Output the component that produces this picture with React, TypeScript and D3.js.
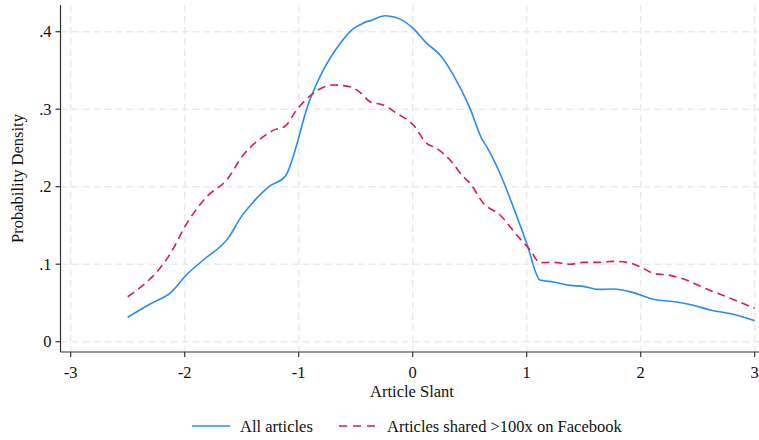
import React from "react";
import * as d3 from "d3";

const W = 759;
const H = 440;

const xTicks = [-3, -2, -1, 0, 1, 2, 3];
const yTicks = [0, 0.1, 0.2, 0.3, 0.4];
const yTickLabels = ["0", ".1", ".2", ".3", ".4"];

const allX = [-2.5, -2.3, -2.12, -1.98, -1.837, -1.617, -1.5, -1.4, -1.252, -1.12, -0.9, -0.784, -0.667, -0.52, -0.46, -0.404, -0.375, -0.243, -0.155, -0.082, 0.006, 0.123, 0.24, 0.357, 0.503, 0.605, 0.649, 0.766, 0.882, 1.0, 1.117, 1.233, 1.38, 1.497, 1.628, 1.76, 1.935, 2.11, 2.316, 2.46, 2.61, 2.81, 3.0];
const allY = [0.0315, 0.049, 0.0637, 0.087, 0.1054, 0.134, 0.162, 0.18, 0.201, 0.213, 0.313, 0.3506, 0.3786, 0.404, 0.409, 0.413, 0.414, 0.4206, 0.4186, 0.414, 0.404, 0.385, 0.37, 0.344, 0.301, 0.262, 0.2516, 0.217, 0.174, 0.127, 0.0796, 0.077, 0.0727, 0.0714, 0.0675, 0.068, 0.0633, 0.0547, 0.0512, 0.047, 0.041, 0.0353, 0.0271];

const fbX = [-2.5, -2.129, -1.98, -1.807, -1.632, -1.486, -1.31, -1.22, -1.12, -1.018, -0.872, -0.696, -0.55, -0.462, -0.375, -0.258, -0.14, 0.006, 0.123, 0.21, 0.327, 0.444, 0.503, 0.62, 0.766, 0.912, 1.03, 1.117, 1.233, 1.38, 1.497, 1.628, 1.76, 1.877, 1.994, 2.11, 2.257, 2.4, 2.579, 2.754, 3.0];
const fbY = [0.058, 0.113, 0.153, 0.187, 0.2086, 0.241, 0.2645, 0.273, 0.278, 0.299, 0.3205, 0.3312, 0.329, 0.3218, 0.3097, 0.3054, 0.2947, 0.2796, 0.256, 0.2495, 0.2345, 0.213, 0.2044, 0.1786, 0.1635, 0.1377, 0.1183, 0.102, 0.1024, 0.0999, 0.1024, 0.1024, 0.1037, 0.1024, 0.0968, 0.0882, 0.0856, 0.0796, 0.068, 0.058, 0.043];

const seriesNames = ["All articles", "Articles shared >100x on Facebook"];

const BLUE = "#2a8cf2";
const RED = "#d81b5c";
const FONT = "'Liberation Serif', 'Times New Roman', serif";
const FS = 16.5;

export default function App() {
  const x = d3.scaleLinear().domain([-3, 3]).range([70.7, 754.7]);
  const y = d3.scaleLinear().domain([0, 0.4]).range([341.7, 31.7]);
  const axL = 60.5;
  const axB = 352;
  const top = 5;
  const right = 759;

  const line = d3
    .line<[number, number]>()
    .x((d) => x(d[0]))
    .y((d) => y(d[1]))
    .curve(d3.curveMonotoneX);

  const allPts = allX.map((v, i) => [v, allY[i]] as [number, number]);
  const fbPts = fbX.map((v, i) => [v, fbY[i]] as [number, number]);

  return (
    <div style={{ position: "fixed", left: 0, top: 0 }}>
      <svg width={W} height={H} style={{ display: "block", background: "#fff" }}>
        <rect x={0} y={0} width={W} height={H} fill="#fff" />
        {yTicks.map((t) => (
          <line key={"gy" + t} x1={axL} x2={right} y1={y(t)} y2={y(t)} stroke="#ebebeb" strokeWidth={1.5} strokeDasharray="7,4" />
        ))}
        {xTicks.map((t) => (
          <line key={"gx" + t} x1={x(t)} x2={x(t)} y1={top} y2={axB} stroke="#ebebeb" strokeWidth={1.5} strokeDasharray="7,4" />
        ))}
        <line x1={axL} x2={axL} y1={top} y2={axB} stroke="#333" strokeWidth={1.2} />
        <line x1={axL} x2={right} y1={axB} y2={axB} stroke="#333" strokeWidth={1.2} />
        {yTicks.map((t, i) => (
          <g key={"yt" + t}>
            <line x1={axL - 5} x2={axL} y1={y(t)} y2={y(t)} stroke="#333" strokeWidth={1.2} />
            <text x={axL - 9} y={y(t) + 5.5} textAnchor="end" fontFamily={FONT} fontSize={FS} fill="#111">
              {yTickLabels[i]}
            </text>
          </g>
        ))}
        {xTicks.map((t) => (
          <g key={"xt" + t}>
            <line x1={x(t)} x2={x(t)} y1={axB} y2={axB + 5} stroke="#333" strokeWidth={1.2} />
            <text x={x(t)} y={378} textAnchor="middle" fontFamily={FONT} fontSize={FS} fill="#111">
              {t < 0 ? "-" + Math.abs(t) : String(t)}
            </text>
          </g>
        ))}
        <text x={412} y={397} textAnchor="middle" fontFamily={FONT} fontSize={FS} fill="#111">
          Article Slant
        </text>
        <text
          transform={`translate(23, ${(top + axB) / 2}) rotate(-90)`}
          textAnchor="middle"
          fontFamily={FONT}
          fontSize={FS}
          fill="#111"
        >
          Probability Density
        </text>
        <path d={line(allPts) || ""} fill="none" stroke={BLUE} strokeWidth={1.6} />
        <path d={line(fbPts) || ""} fill="none" stroke={RED} strokeWidth={1.6} strokeDasharray="8,5" />
        <line x1={192} x2={230} y1={426} y2={426} stroke={BLUE} strokeWidth={1.6} />
        <text x={240} y={432} fontFamily={FONT} fontSize={FS} fill="#111">
          {seriesNames[0]}
        </text>
        <line x1={339} x2={378} y1={426} y2={426} stroke={RED} strokeWidth={1.6} strokeDasharray="8,6" />
        <text x={387} y={432} fontFamily={FONT} fontSize={FS} fill="#111">
          {seriesNames[1]}
        </text>
      </svg>
    </div>
  );
}
